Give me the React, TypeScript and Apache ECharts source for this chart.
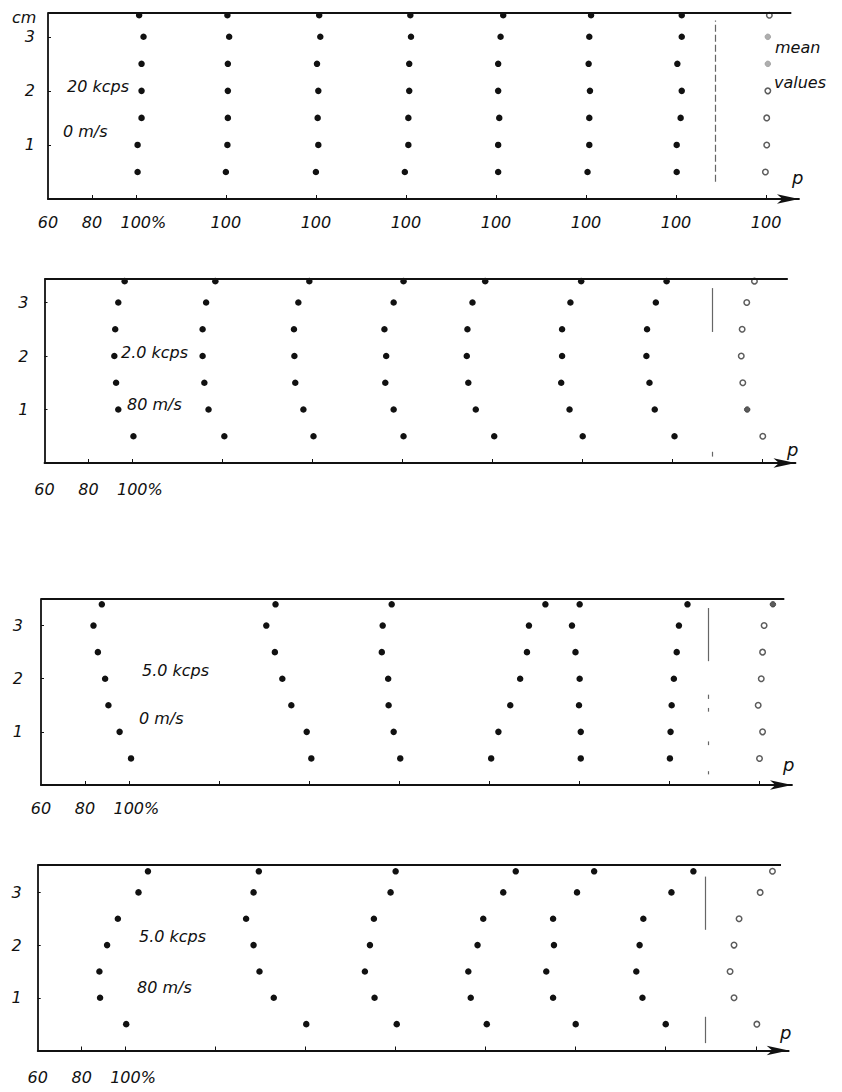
import React, { useEffect, useRef } from "react";
import * as echarts from "echarts";

// ---- data ----
const HEIGHTS = [0.5, 1, 1.5, 2, 2.5, 3, 3.4]; // cm
const SPACING = 41; // % shift between successive profiles
const MEAN_SLOT = 7;
const X_TICKS = [80, 100, 141, 182, 223, 264, 305, 346, 387];
const X_LABELS_FIRST = [60, 80, 100, 141, 182, 223, 264, 305, 346, 387];
const X_LABELS_OTHER = [60, 80, 100];
const Y_TICKS = [1, 2, 3];

// panel 1: 2.0 kcps, 0 m/s
const P1_SLOTS = [0, 1, 2, 3, 4, 5, 6];
const P1_PROFILES = [
  [100.8, 100.8, 102.6, 102.6, 102.6, 103.5, 101.5],
  [100, 100.7, 100.9, 100.9, 100.9, 101.5, 100.7],
  [100, 101.1, 100.8, 101.1, 100.5, 102, 101.5],
  [99.5, 101.1, 101.1, 101.5, 101.5, 102.3, 102],
  [101, 101, 101.5, 101, 101, 102.1, 103.3],
  [100.7, 101.5, 101.5, 101.8, 101.2, 101.5, 102.3],
  [100.3, 100.3, 102.1, 102.6, 100.6, 102.6, 102.6],
];
const P1_MEAN = [99.7, 100.3, 100.3, 100.8, 100.8, 100.8, 101.5];
const P1_MEAN_FILL = ["o", "o", "o", "o", "g", "g", "o"];

// panel 2: 2.0 kcps, 80 m/s
const P2_SLOTS = [0, 1, 2, 3, 4, 5, 6];
const P2_PROFILES = [
  [100.5, 93.6, 92.6, 91.8, 92.2, 93.6, 96.5],
  [100.9, 93.7, 91.8, 91, 91, 92.6, 96.8],
  [100.5, 95.9, 92.2, 91.8, 91.6, 93.6, 98.6],
  [100.5, 96, 92.2, 92.6, 91.8, 96, 100.5],
  [100.8, 92.4, 89, 88.3, 88.6, 90.9, 96.7],
  [100.1, 94.1, 90.3, 90.7, 90.7, 94.5, 99.4],
  [100.9, 91.9, 89.5, 88.1, 88.4, 92.4, 97.3],
];
const P2_MEAN = [100.1, 93, 91, 90.3, 90.7, 92.8, 96.3];
const P2_MEAN_FILL = ["o", "f", "o", "o", "o", "o", "o"];

// panel 3: 5.0 kcps, 0 m/s
const P3_SLOTS = [0, 2, 3, 4, 5, 6];
const P3_PROFILES = [
  [101, 95.8, 90.7, 89.2, 85.9, 83.9, 87.7],
  [101.1, 99, 92, 87.9, 84.5, 80.6, 84.8],
  [100.6, 97.6, 95.3, 95.1, 92.2, 92.6, 96.7],
  [101, 104.3, 109.7, 114.2, 117.3, 118.2, 125.7],
  [100.8, 100.8, 100, 100.3, 98.4, 96.8, 100.3],
  [100.4, 100.7, 101.2, 102.2, 103.5, 104.5, 108.4],
];
const P3_MEAN = [100.2, 101.6, 99.6, 101, 101.6, 102.3, 106.3];
const P3_MEAN_FILL = ["o", "o", "o", "o", "o", "o", "f"];

// panel 4: 5.0 kcps, 80 m/s
const P4_SLOTS = [0, 2, 3, 4, 5, 6];
const P4_PROFILES = [
  [100.3, 88.4, 88.1, 91.6, 96.5, 105.9, 110.2],
  [100.3, 85.5, 79, 76.3, 72.9, 76.3, 78.7],
  [100.5, 90.4, 86, 88.3, 90.1, 97.7, 100],
  [100.5, 93.2, 92.1, 96.3, 98.9, 108, 113.7],
  [100, 89.7, 86.6, 90.1, 89.7, 100.6, 108.4],
  [100, 89.4, 86.6, 88.1, 89.8, 102.6, 112.6],
];
const P4_MEAN = [100.5, 90.1, 88.3, 90.1, 92.4, 102, 107.6];
const P4_MEAN_FILL = ["o", "o", "o", "o", "o", "o", "o"];

// separator (dashed vertical) segments, in cm
const SEPARATOR_X = 364;
const P1_SEP = [[0.32, 3.3]];
const P2_SEP = [[2.45, 3.27], [0.12, 0.21]];
const P3_SEP = [[2.33, 3.33], [1.62, 1.7], [1.38, 1.45], [0.75, 0.82], [0.2, 0.26]];
const P4_SEP = [[2.29, 3.3], [0.14, 0.64]];

const TOP_END = 398.5;

const PANEL_LABELS = [
  ["20 kcps", "0 m/s"],
  ["2.0 kcps", "80 m/s"],
  ["5.0 kcps", "0 m/s"],
  ["5.0 kcps", "80 m/s"],
];

// ---- layout ----
const LAYOUT = [
  { left: 48, top: 13, height: 186, ymax: 3.44, ylm: 13, xlm: 15, t1: [67, 86], t2: [63, 131], p: [792, 177] },
  { left: 44.5, top: 279, height: 184, ymax: 3.44, ylm: 16, xlm: 18, t1: [121, 352], t2: [127, 404], p: [787, 449] },
  { left: 41, top: 599, height: 186, ymax: 3.5, ylm: 18, xlm: 15, t1: [142, 670], t2: [139, 718], p: [783, 764] },
  { left: 37.7, top: 865, height: 185.5, ymax: 3.52, ylm: 16, xlm: 19, t1: [139, 936], t2: [137, 987], p: [780, 1032] },
];
const GRID_WIDTH = 751;
const FONT = '"DejaVu Sans", sans-serif';
const INK = "#111111";
const LABEL_SIZE = 16;

const PANELS = [
  { slots: P1_SLOTS, profiles: P1_PROFILES, mean: P1_MEAN, fill: P1_MEAN_FILL, sep: P1_SEP, sepDash: [7, 3] },
  { slots: P2_SLOTS, profiles: P2_PROFILES, mean: P2_MEAN, fill: P2_MEAN_FILL, sep: P2_SEP, sepDash: "solid" },
  { slots: P3_SLOTS, profiles: P3_PROFILES, mean: P3_MEAN, fill: P3_MEAN_FILL, sep: P3_SEP, sepDash: "solid" },
  { slots: P4_SLOTS, profiles: P4_PROFILES, mean: P4_MEAN, fill: P4_MEAN_FILL, sep: P4_SEP, sepDash: "solid" },
];

function buildOption() {
  const grid: any[] = [];
  const xAxis: any[] = [];
  const yAxis: any[] = [];
  const series: any[] = [];
  const graphic: any[] = [];

  const labelStyle = {
    fontFamily: FONT,
    fontStyle: "italic",
    fontSize: LABEL_SIZE,
    color: INK,
  };

  PANELS.forEach((panel, i) => {
    const L = LAYOUT[i];
    grid.push({ left: L.left, top: L.top, width: GRID_WIDTH, height: L.height });
    xAxis.push({
      type: "value",
      gridIndex: i,
      min: 60,
      max: 402,
      axisLine: {
        show: true,
        onZero: false,
        lineStyle: { color: INK, width: 1.8 },
        symbol: ["none", "arrow"],
        symbolSize: [7, 22],
      },
      axisTick: { show: true, inside: true, length: 4, lineStyle: { color: INK, width: 1 }, customValues: X_TICKS },
      axisLabel: {
        show: true,
        customValues: i === 0 ? X_LABELS_FIRST : X_LABELS_OTHER,
        formatter: (v: number) => (v === 100 ? "{pc|100%}" : v > 100 ? "100" : String(v)),
        ...labelStyle,
        margin: L.xlm,
        rich: {
          pc: { ...labelStyle, padding: [0, 0, 0, 15] },
        },
      },
      splitLine: { show: false },
    });
    yAxis.push({
      type: "value",
      gridIndex: i,
      min: 0,
      max: L.ymax,
      axisLine: { show: true, onZero: false, lineStyle: { color: INK, width: 1.8 } },
      axisTick: { show: true, inside: true, length: 3, lineStyle: { color: INK }, customValues: Y_TICKS },
      axisLabel: {
        show: true,
        customValues: Y_TICKS,
        ...labelStyle,
        margin: L.ylm,
      },
      splitLine: { show: false },
    });

    const pts: number[][] = [];
    panel.slots.forEach((slot, k) => {
      panel.profiles[k].forEach((p, j) => {
        pts.push([p + slot * SPACING, HEIGHTS[j]]);
      });
    });

    const markData: any[] = [
      [
        { coord: [60, L.ymax], lineStyle: { color: INK, width: 1.8, type: "solid" } },
        { coord: [TOP_END, L.ymax] },
      ],
    ];
    panel.sep.forEach((s) => {
      markData.push([
        { coord: [SEPARATOR_X, s[0]], lineStyle: { color: "#666", width: 1.2, type: panel.sepDash } },
        { coord: [SEPARATOR_X, s[1]] },
      ]);
    });

    series.push({
      type: "scatter",
      xAxisIndex: i,
      yAxisIndex: i,
      data: pts,
      symbol: "circle",
      symbolSize: 6.5,
      itemStyle: { color: INK, opacity: 1 },
      clip: false,
      silent: true,
      markLine: {
        silent: true,
        symbol: ["none", "none"],
        label: { show: false },
        data: markData,
      },
      z: 3,
    });

    const meanPts = panel.mean.map((p, j) => {
      const f = panel.fill[j];
      const style =
        f === "o"
          ? { color: "#ffffff", borderColor: "#333", borderWidth: 1.5 }
          : f === "g"
          ? { color: "#9a9a9a", borderColor: "#9a9a9a", borderWidth: 1 }
          : { color: "#333", borderColor: "#333", borderWidth: 1 };
      return { value: [p + MEAN_SLOT * SPACING, HEIGHTS[j]], itemStyle: style };
    });
    series.push({
      type: "scatter",
      xAxisIndex: i,
      yAxisIndex: i,
      data: meanPts,
      symbol: "circle",
      symbolSize: 5.5,
      clip: false,
      silent: true,
      z: 4,
    });

    const txt = (text: string, x: number, y: number, size = LABEL_SIZE) => ({
      type: "text",
      x,
      y,
      silent: true,
      style: {
        text,
        fill: INK,
        fontFamily: FONT,
        fontStyle: "italic",
        fontSize: size,
        align: "left",
        verticalAlign: "middle",
      },
    });
    graphic.push(txt(PANEL_LABELS[i][0], L.t1[0], L.t1[1]));
    graphic.push(txt(PANEL_LABELS[i][1], L.t2[0], L.t2[1]));
    graphic.push(txt("p", L.p[0], L.p[1], 18));
  });

  const plain = (text: string, x: number, y: number) => ({
    type: "text",
    x,
    y,
    silent: true,
    style: { text, fill: INK, fontFamily: FONT, fontStyle: "italic", fontSize: LABEL_SIZE, align: "left", verticalAlign: "middle" },
  });
  graphic.push(plain("cm", 12, 17));
  graphic.push(plain("mean", 775, 47));
  graphic.push(plain("values", 774, 82));

  return {
    animation: false,
    backgroundColor: "#ffffff",
    grid,
    xAxis,
    yAxis,
    series,
    graphic,
  };
}

export default function App() {
  const ref = useRef<HTMLDivElement>(null);
  useEffect(() => {
    if (!ref.current) return;
    const chart = echarts.init(ref.current, undefined, { renderer: "svg" });
    chart.setOption(buildOption() as any);
    return () => chart.dispose();
  }, []);
  return (
    <div
      ref={ref}
      style={{ position: "absolute", left: 0, top: 0, width: 842, height: 1092, background: "#fff" }}
    />
  );
}
